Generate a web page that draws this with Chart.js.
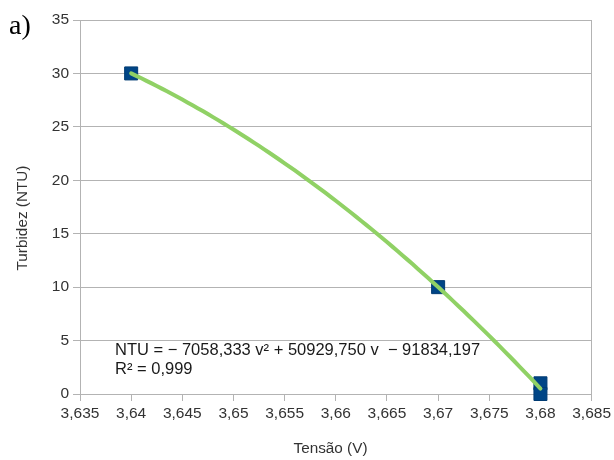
<!DOCTYPE html>
<html>
<head>
<meta charset="utf-8">
<script src="https://cdn.jsdelivr.net/npm/chart.js@4.4.1/dist/chart.umd.min.js"></script>
<style>
  html, body { margin: 0; padding: 0; background: #ffffff; }
  #wrap { position: relative; width: 614px; height: 460px; }
  canvas { display: block; }
</style>
</head>
<body>
<div id="wrap"><canvas id="chart" width="614" height="460"></canvas></div>
<script>
// Measured samples: voltage (V) against turbidity (NTU)
const tensao = [3.64, 3.67, 3.68, 3.68];
const turbidez = [30, 10, 1, 0];

// Quadratic fit NTU = a·v² + b·v + c
const trendCoefs = [-7058.333, 50929.750, -91834.197];
const trendRange = [3.64, 3.68];

// Axis ticks
const xTickValues = [3.635, 3.64, 3.645, 3.65, 3.655, 3.66, 3.665, 3.67, 3.675, 3.68, 3.685];
const xTickLabels = ['3,635', '3,64', '3,645', '3,65', '3,655', '3,66', '3,665', '3,67', '3,675', '3,68', '3,685'];
const yTickValues = [0, 5, 10, 15, 20, 25, 30, 35];
const yTickLabels = ['0', '5', '10', '15', '20', '25', '30', '35'];

// Texts
const panelLabel = 'a)';
const xTitle = 'Tensão (V)';
const yTitle = 'Turbidez (NTU)';
const equationLines = ['NTU = \u2212 7058,333 v\u00B2 + 50929,750 v  \u2212 91834,197', 'R\u00B2 = 0,999'];

const scatterPoints = tensao.map((v, i) => ({ x: v, y: turbidez[i] }));

// Curve of the fitted polynomial across the measured range
const trendPoints = [];
const nSteps = 80;
for (let i = 0; i <= nSteps; i++) {
  const v = trendRange[0] + (trendRange[1] - trendRange[0]) * i / nSteps;
  trendPoints.push({ x: v, y: trendCoefs[0] * v * v + trendCoefs[1] * v + trendCoefs[2] });
}

const gridGray = '#b3b3b3';
const textColor = '#333333';
const sansFont = '"Liberation Sans", Arial, sans-serif';

const annotations = {
  id: 'annotations',
  afterDraw(chart) {
    const ctx = chart.ctx;
    ctx.save();
    ctx.fillStyle = textColor;

    // Axis titles
    ctx.font = '15.3px ' + sansFont;
    ctx.textAlign = 'center';
    ctx.textBaseline = 'alphabetic';
    ctx.fillText(xTitle, 330.5, 453);

    ctx.save();
    ctx.translate(27, 218);
    ctx.rotate(-Math.PI / 2);
    ctx.fillText(yTitle, 0, 0);
    ctx.restore();

    // Fit equation
    ctx.fillStyle = '#1a1a1a';
    ctx.font = '16.5px ' + sansFont;
    ctx.textAlign = 'left';
    ctx.fillText(equationLines[0], 115, 355);
    ctx.fillText(equationLines[1], 115, 373.5);

    // Panel label
    ctx.fillStyle = '#000000';
    ctx.font = '28px "Liberation Serif", "Times New Roman", serif';
    ctx.fillText(panelLabel, 9, 34);
    ctx.restore();
  }
};

new Chart(document.getElementById('chart'), {
  type: 'scatter',
  data: {
    datasets: [
      {
        label: 'Ajuste',
        data: trendPoints,
        showLine: true,
        borderColor: '#90d165',
        borderWidth: 4,
        borderCapStyle: 'round',
        pointRadius: 0,
        pointHoverRadius: 0,
        tension: 0,
        clip: false
      },
      {
        label: 'Turbidez',
        data: scatterPoints,
        showLine: false,
        pointStyle: 'rect',
        pointRadius: 9.2,
        pointHoverRadius: 9.2,
        backgroundColor: '#004586',
        borderColor: '#003b73',
        borderWidth: 1,
        clip: false
      }
    ]
  },
  options: {
    responsive: false,
    animation: false,
    events: [],
    layout: { padding: { top: 20, right: 22, left: 0, bottom: 0 } },
    plugins: {
      legend: { display: false },
      tooltip: { enabled: false }
    },
    scales: {
      x: {
        type: 'linear',
        min: 3.635,
        max: 3.685,
        afterFit(scale) { scale.height = 66; },
        afterBuildTicks(scale) { scale.ticks = xTickValues.map(v => ({ value: v })); },
        ticks: {
          autoSkip: false,
          maxRotation: 0,
          minRotation: 0,
          padding: 3,
          color: textColor,
          font: { family: sansFont, size: 15.5 },
          callback: (val, i) => xTickLabels[i]
        },
        grid: {
          color: c => (c.index === xTickValues.length - 1 ? gridGray : 'rgba(0,0,0,0)'),
          tickColor: gridGray,
          tickLength: 7,
          lineWidth: 1
        },
        border: { display: true, color: gridGray, width: 1 }
      },
      y: {
        type: 'linear',
        min: 0,
        max: 35,
        afterFit(scale) { scale.width = 80; },
        afterBuildTicks(scale) { scale.ticks = yTickValues.map(v => ({ value: v })); },
        ticks: {
          padding: 4,
          color: textColor,
          font: { family: sansFont, size: 15.5 },
          callback: (val, i) => yTickLabels[i]
        },
        grid: {
          color: gridGray,
          tickColor: gridGray,
          tickLength: 7,
          lineWidth: 1
        },
        border: { display: true, color: gridGray, width: 1 }
      }
    }
  },
  plugins: [annotations]
});
</script>
</body>
</html>
